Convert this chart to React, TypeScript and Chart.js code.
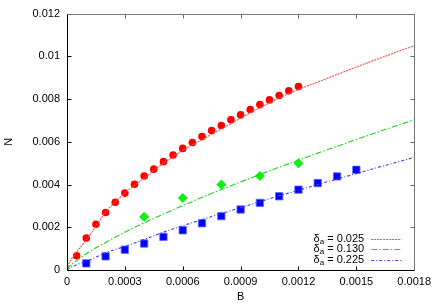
import React, { useEffect, useRef } from "react";
import { Chart, registerables } from "chart.js";
Chart.register(...registerables);

// Measured points (B, N)
const redB = [0.00005, 0.0001, 0.00015, 0.0002, 0.00025, 0.0003, 0.00035, 0.0004, 0.00045, 0.0005, 0.00055, 0.0006, 0.00065, 0.0007, 0.00075, 0.0008, 0.00085, 0.0009, 0.00095, 0.001, 0.00105, 0.0011, 0.00115, 0.0012];
const redN = [0.00067, 0.0015, 0.00214, 0.00269, 0.00317, 0.0036, 0.00401, 0.0044, 0.00472, 0.00507, 0.00538, 0.00569, 0.00597, 0.00625, 0.00653, 0.00676, 0.00703, 0.00726, 0.00751, 0.00774, 0.00796, 0.00817, 0.00839, 0.00859];

const greenB = [0.0004, 0.0006, 0.0008, 0.001, 0.0012];
const greenN = [0.00249, 0.00337, 0.004, 0.0044, 0.005];

const blueB = [0.0001, 0.0002, 0.0003, 0.0004, 0.0005, 0.0006, 0.0007, 0.0008, 0.0009, 0.001, 0.0011, 0.0012, 0.0013, 0.0014, 0.0015];
const blueN = [0.00031, 0.00064, 0.00095, 0.00124, 0.00155, 0.00186, 0.00219, 0.00252, 0.00283, 0.00314, 0.00345, 0.00376, 0.00407, 0.00438, 0.00469];

// Fitted curves
const fitB = [0, 0.00001, 0.00003, 0.00005, 0.0001, 0.00015, 0.0002, 0.0003, 0.0004, 0.0005, 0.0006, 0.0007, 0.0008, 0.0009, 0.001, 0.0011, 0.0012, 0.0013, 0.0014, 0.0015, 0.0016, 0.0017, 0.0018];
const fitRed = [0, 0.0003, 0.0006, 0.00085, 0.0014, 0.00205, 0.0027, 0.0036, 0.0043, 0.005, 0.0056, 0.0061, 0.0066, 0.0071, 0.0076, 0.00805, 0.00845, 0.0088, 0.00915, 0.0095, 0.00984, 0.01017, 0.0105];
const fitGreen = [0, 0.00013, 0.0003, 0.00044, 0.00076, 0.00104, 0.00129, 0.00177, 0.00221, 0.00262, 0.00301, 0.0034, 0.00376, 0.00412, 0.00447, 0.00481, 0.00514, 0.00547, 0.00579, 0.00611, 0.00642, 0.00673, 0.00703];
const fitBlue = [0, 0.000064, 0.00016, 0.00025, 0.0004, 0.0006, 0.00081, 0.0011, 0.00143, 0.00177, 0.00207, 0.00236, 0.00264, 0.00292, 0.0032, 0.00347, 0.00373, 0.004, 0.00426, 0.00451, 0.00477, 0.00502, 0.00527];

const legendValues = ["0.025", "0.130", "0.225"];

const xTicks = [0, 0.0003, 0.0006, 0.0009, 0.0012, 0.0015, 0.0018];
const xTickLabels = ["0", "0.0003", "0.0006", "0.0009", "0.0012", "0.0015", "0.0018"];
const yTicks = [0, 0.002, 0.004, 0.006, 0.008, 0.01, 0.012];
const yTickLabels = ["0", "0.002", "0.004", "0.006", "0.008", "0.01", "0.012"];

const FONT = "'Liberation Sans', Arial, sans-serif";
const lineColors = ["#ff4a4a", "#1ed41e", "#3a3aff"];
const lineDashes = [[2, 1], [6, 2, 1.5, 2], [3, 2, 1, 2]];

const zip = (xs: number[], ys: number[]) => xs.map((x, i) => ({ x, y: ys[i] }));

const framePlugin = {
  id: "frame",
  afterDraw(chart: any) {
    const { ctx, chartArea: a, scales } = chart;
    const xs = scales.x, ys = scales.y;
    const L = Math.round(a.left) + 0.5, R = Math.round(a.right) + 0.5;
    const T = Math.round(a.top) + 0.5, B = Math.round(a.bottom) + 0.5;
    ctx.save();
    ctx.lineWidth = 1;
    const tl = 4;
    xTicks.forEach((v) => {
      const px = Math.round(xs.getPixelForValue(v)) + 0.5;
      ctx.strokeStyle = "#000";
      ctx.beginPath(); ctx.moveTo(px, B); ctx.lineTo(px, B - tl); ctx.stroke();
      ctx.strokeStyle = "#666";
      ctx.beginPath(); ctx.moveTo(px, T); ctx.lineTo(px, T + tl); ctx.stroke();
    });
    yTicks.forEach((v) => {
      const py = Math.round(ys.getPixelForValue(v)) + 0.5;
      ctx.strokeStyle = "#000";
      ctx.beginPath(); ctx.moveTo(L, py); ctx.lineTo(L + tl, py); ctx.stroke();
      ctx.strokeStyle = "#666";
      ctx.beginPath(); ctx.moveTo(R, py); ctx.lineTo(R - tl, py); ctx.stroke();
    });
    // border
    ctx.strokeStyle = "#777";
    ctx.beginPath(); ctx.moveTo(L, T); ctx.lineTo(R, T); ctx.lineTo(R, B); ctx.stroke();
    ctx.strokeStyle = "#000";
    ctx.beginPath(); ctx.moveTo(L, T); ctx.lineTo(L, B); ctx.lineTo(R, B); ctx.stroke();

    // legend
    const textRight = a.right - 50;
    const sx0 = a.right - 43, sx1 = a.right - 12.5;
    legendValues.forEach((val, i) => {
      const ry = a.bottom - 31.5 + i * 10.6;
      ctx.fillStyle = "#000";
      ctx.textBaseline = "middle";
      ctx.textAlign = "left";
      ctx.font = `11px ${FONT}`;
      const wD = ctx.measureText("\u03b4").width;
      const rest = " = " + val;
      const wR = ctx.measureText(rest).width;
      ctx.font = `8px ${FONT}`;
      const wA = ctx.measureText("a").width;
      const x0 = textRight - (wD + wA + wR);
      ctx.font = `11px ${FONT}`;
      ctx.fillText("\u03b4", x0, ry);
      ctx.font = `8px ${FONT}`;
      ctx.fillText("a", x0 + wD, ry + 3);
      ctx.font = `11px ${FONT}`;
      ctx.fillText(rest, x0 + wD + wA, ry);
      ctx.strokeStyle = lineColors[i];
      ctx.lineWidth = 1.2;
      ctx.setLineDash(lineDashes[i]);
      ctx.beginPath();
      ctx.moveTo(sx0, Math.round(ry) + 0.5);
      ctx.lineTo(sx1, Math.round(ry) + 0.5);
      ctx.stroke();
      ctx.setLineDash([]);
    });
    ctx.restore();
  },
};

export default function App() {
  const ref = useRef<HTMLCanvasElement>(null);
  useEffect(() => {
    document.body.style.margin = "0";
    const canvas = ref.current!;
    const lineDs = (data: number[], i: number) => ({
      type: "line" as const,
      data: zip(fitB, data),
      borderColor: lineColors[i],
      borderWidth: 1.1,
      borderDash: lineDashes[i],
      pointRadius: 0,
      showLine: true,
      fill: false,
      cubicInterpolationMode: "monotone" as const,
      order: 1,
    });
    const chart = new Chart(canvas, {
      type: "scatter",
      data: {
        datasets: [
          { data: zip(redB, redN), pointStyle: "circle", pointRadius: 3.8, backgroundColor: "#ff0000", borderColor: "#ff0000", borderWidth: 0, order: 2 } as any,
          { data: zip(greenB, greenN), pointStyle: "rectRot", pointRadius: 5, backgroundColor: "#11ee11", borderColor: "#11ee11", borderWidth: 0, order: 2 } as any,
          { data: zip(blueB, blueN), pointStyle: "rect", pointRadius: 5.2, backgroundColor: "#0000ff", borderColor: "#6a6aff", borderWidth: 0.8, order: 2 } as any,
          lineDs(fitRed, 0) as any,
          lineDs(fitGreen, 1) as any,
          lineDs(fitBlue, 2) as any,
        ],
      },
      options: {
        animation: false,
        responsive: false,
        layout: { padding: { top: 13, right: 20, left: 0, bottom: 0 } },
        plugins: { legend: { display: false }, tooltip: { enabled: false } },
        scales: {
          x: {
            type: "linear",
            min: 0,
            max: 0.0018,
            afterBuildTicks: (s: any) => { s.ticks = xTicks.map((v) => ({ value: v })); },
            afterFit: (s: any) => { s.height = 35; },
            grid: { display: false, drawTicks: false },
            border: { display: false },
            ticks: {
              padding: 5,
              color: "#000",
              font: { family: FONT, size: 11 },
              maxRotation: 0,
              autoSkip: false,
              callback: (_v: any, i: number) => xTickLabels[i],
            },
            title: { display: true, text: "B", color: "#000", font: { family: FONT, size: 11 }, padding: { top: 0, bottom: 1 } },
          },
          y: {
            type: "linear",
            min: 0,
            max: 0.012,
            afterBuildTicks: (s: any) => { s.ticks = yTicks.map((v) => ({ value: v })); },
            afterFit: (s: any) => { s.width = 67; },
            grid: { display: false, drawTicks: false },
            border: { display: false },
            ticks: {
              padding: 7,
              color: "#000",
              font: { family: FONT, size: 11 },
              autoSkip: false,
              callback: (_v: any, i: number) => yTickLabels[i],
            },
            title: { display: true, text: "N", color: "#000", font: { family: FONT, size: 11 }, padding: { top: 2, bottom: 0 } },
          },
        },
      },
      plugins: [framePlugin],
    });
    return () => chart.destroy();
  }, []);
  return (
    <div style={{ width: 436, height: 305, background: "#fff" }}>
      <canvas ref={ref} width={436} height={305} style={{ display: "block" }} />
    </div>
  );
}
